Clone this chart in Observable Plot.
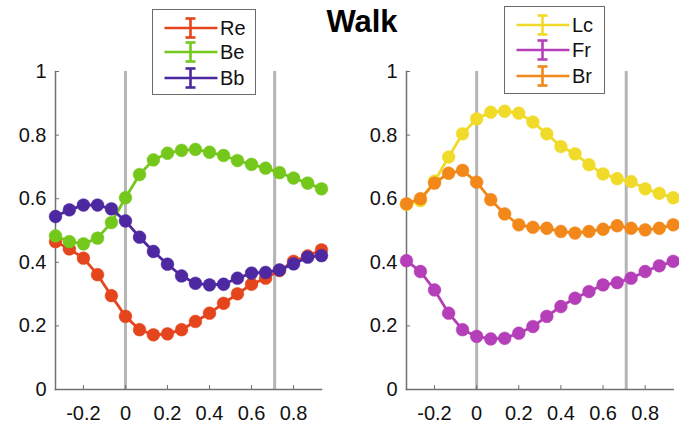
<!DOCTYPE html>
<html><head><meta charset="utf-8">
<script src="https://cdn.jsdelivr.net/npm/d3@7"></script>
<script src="https://cdn.jsdelivr.net/npm/@observablehq/plot@0.6"></script>
<style>
body{margin:0;background:#fff;font-family:"Liberation Sans",Arial,sans-serif;}
#wrap{position:relative;width:679px;height:432px;overflow:hidden;background:#fff;}
.panel{position:absolute;top:0;}
.legend{position:absolute;border:1.5px solid #6a6a6a;background:#fff;box-sizing:border-box;}
.row{position:absolute;left:0;height:22px;display:flex;align-items:center;}
.row svg{display:block;}
.row span{font-size:20px;color:#111;margin-left:1px;line-height:20px;}
#title{position:absolute;left:262px;width:200px;top:6px;text-align:center;font-weight:bold;font-size:31px;line-height:31px;color:#000;}
</style>
</head><body>
<div id="wrap">
  <div id="title">Walk</div>
</div>
<script>
// time axis (s)
const xs = [-0.333,-0.267,-0.2,-0.133,-0.067,0,0.067,0.133,0.2,0.267,0.333,0.4,0.467,0.533,0.6,0.667,0.733,0.8,0.867,0.933];
const xTicks = [-0.2,0,0.2,0.4,0.6,0.8];
const yTicks = [0,0.2,0.4,0.6,0.8,1];
const eventTimes = [0,0.71];

// left panel
const leftNames = ["Re","Be","Bb"];
const leftColors = ["#e5451c","#74c71b","#4d28a0"];
const Re = [0.465,0.442,0.413,0.361,0.295,0.230,0.188,0.172,0.175,0.188,0.214,0.240,0.271,0.301,0.331,0.350,0.374,0.403,0.420,0.439];
const Be = [0.483,0.465,0.458,0.476,0.525,0.603,0.676,0.722,0.743,0.752,0.755,0.746,0.736,0.720,0.708,0.696,0.682,0.665,0.649,0.631];
const Bb = [0.544,0.565,0.580,0.580,0.568,0.530,0.479,0.434,0.394,0.357,0.334,0.329,0.331,0.350,0.366,0.368,0.376,0.395,0.416,0.421];

// right panel
const rightNames = ["Lc","Fr","Br"];
const rightColors = ["#f0da2a","#b43fb8","#f2871a"];
const Lc = [0.582,0.594,0.655,0.731,0.804,0.851,0.872,0.875,0.869,0.841,0.804,0.764,0.741,0.707,0.678,0.663,0.654,0.631,0.617,0.603];
const Fr = [0.405,0.371,0.313,0.240,0.188,0.167,0.159,0.161,0.177,0.198,0.230,0.261,0.287,0.308,0.329,0.336,0.350,0.371,0.389,0.403];
const Br = [0.584,0.600,0.649,0.680,0.689,0.652,0.597,0.552,0.518,0.510,0.507,0.497,0.492,0.497,0.504,0.515,0.507,0.502,0.507,0.518];

function makePanel(names, colors, values, width, ml, mr) {
  const marks = [
    Plot.ruleX(eventTimes, {y1: 0, y2: 1, stroke: "#b5b5b5", strokeWidth: 3}),
    Plot.frame({anchor: "left", stroke: "#707070", strokeWidth: 1.5}),
    Plot.frame({anchor: "bottom", stroke: "#707070", strokeWidth: 1.5}),
    Plot.axisY({ticks: yTicks, label: null, tickSize: -4, tickPadding: 13, stroke: "#707070", fill: "#111", tickFormat: d => String(d)}),
    Plot.axisX({ticks: xTicks, label: null, tickSize: -4, tickPadding: 20.5, stroke: "#707070", fill: "#111", tickFormat: d => String(d)})
  ];
  names.forEach((n, j) => {
    const data = values[j].map((v, i) => ({x: xs[i], y: v}));
    marks.push(Plot.line(data, {x: "x", y: "y", stroke: colors[j], strokeWidth: 2.8}));
    marks.push(Plot.dot(data, {x: "x", y: "y", r: 6.4, fill: colors[j], stroke: colors[j], strokeWidth: 0.5}));
  });
  return Plot.plot({
    width, height: 432,
    marginLeft: ml, marginRight: mr, marginTop: 71, marginBottom: 43,
    x: {domain: [xs[0], xs[xs.length - 1]], label: null},
    y: {domain: [0, 1], label: null},
    style: {fontFamily: "'Liberation Sans', Arial, sans-serif", fontSize: "20px", background: "transparent", overflow: "visible"},
    marks
  });
}

function makeLegend(names, colors, box, rowsY) {
  const div = document.createElement("div");
  div.className = "legend";
  Object.assign(div.style, {left: box[0] + "px", top: box[1] + "px", width: box[2] + "px", height: box[3] + "px"});
  names.forEach((n, j) => {
    const row = document.createElement("div");
    row.className = "row";
    row.style.top = (rowsY[j] - 11) + "px";
    const c = colors[j];
    row.innerHTML = `<svg width="66" height="22"><line x1="11.5" x2="64.5" y1="11" y2="11" stroke="${c}" stroke-width="2.6"/>` +
      `<line x1="37.5" x2="37.5" y1="1.5" y2="20.5" stroke="${c}" stroke-width="2.6"/>` +
      `<line x1="32.5" x2="42.5" y1="1.5" y2="1.5" stroke="${c}" stroke-width="2.6"/>` +
      `<line x1="32.5" x2="42.5" y1="20.5" y2="20.5" stroke="${c}" stroke-width="2.6"/></svg><span>${n}</span>`;
    div.appendChild(row);
  });
  return div;
}

const wrap = document.getElementById("wrap");
const left = makePanel(leftNames, leftColors, [Re, Be, Bb], 340, 55, 19);
left.classList.add("panel"); left.style.left = "0px";
const right = makePanel(rightNames, rightColors, [Lc, Fr, Br], 339, 66, 6.3);
right.classList.add("panel"); right.style.left = "340px";
wrap.insertBefore(right, wrap.firstChild);
wrap.insertBefore(left, wrap.firstChild);
wrap.appendChild(makeLegend(leftNames, leftColors, [152, 9, 104, 86], [18, 42, 68]));
wrap.appendChild(makeLegend(rightNames, rightColors, [504, 6, 101, 88], [18, 43, 69]));
</script>
</body></html>
